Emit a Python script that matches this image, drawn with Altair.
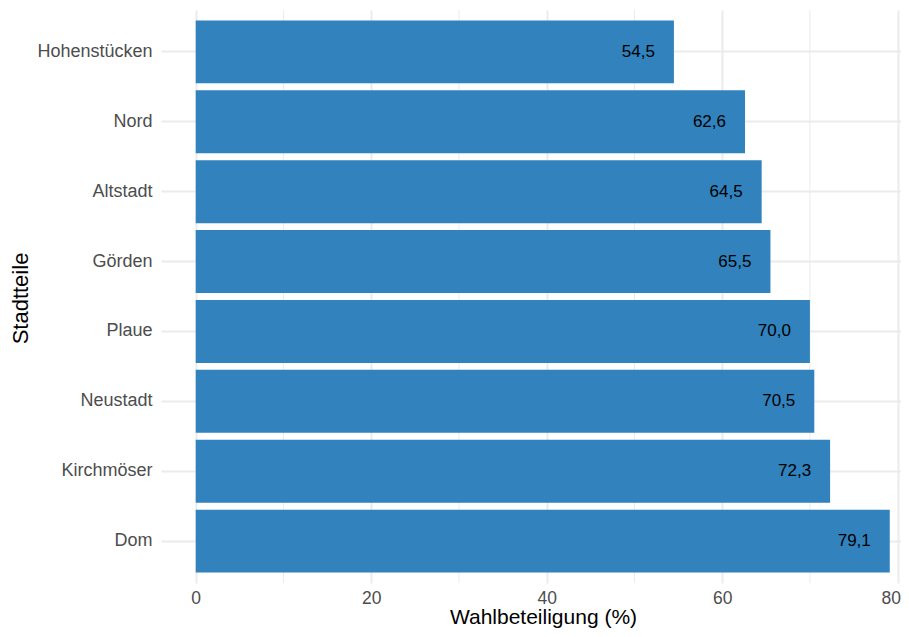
import altair as alt
import pandas as pd

districts = ["Hohenstücken", "Nord", "Altstadt", "Görden", "Plaue", "Neustadt", "Kirchmöser", "Dom"]
turnout = [54.5, 62.6, 64.5, 65.5, 70.0, 70.5, 72.3, 79.1]
labels = [f"{v:.1f}".replace(".", ",") for v in turnout]
major_ticks = [0, 20, 40, 60, 80]
minor_ticks = [10, 30, 50, 70]

df = pd.DataFrame({"Stadtteil": districts, "Wert": turnout, "Label": labels})
minor_df = pd.DataFrame({"m": minor_ticks})

FONT = "Liberation Sans"
W, H = 740, 573
xscale = alt.Scale(domain=[-3.955, 80.38], nice=False, zero=False)
yscale = alt.Scale(domain=districts, paddingInner=0.1, paddingOuter=0.15)

x_axis = alt.Axis(
    values=major_ticks, grid=True, gridColor="#ebebeb", gridWidth=2,
    ticks=False, domain=False, labelFontSize=17.5, labelColor="#4d4d4d",
    labelFont=FONT, labelPadding=6,
    labelOffset={"condition": {"test": "datum.value === 80", "value": -7}, "value": 0},
    title="Wahlbeteiligung (%)",
    titleFont=FONT, titleFontSize=21, titleFontWeight="normal", titleColor="#000000",
    titleX=382, titleY=34, titleAlign="center", titleBaseline="middle",
)
y_axis = alt.Axis(
    grid=True, gridColor="#ebebeb", gridWidth=2, ticks=False, domain=False,
    labelFontSize=18, labelColor="#4d4d4d", labelFont=FONT, labelPadding=9,
    title="Stadtteile", titleFont=FONT, titleFontSize=22, titleFontWeight="normal",
    titleColor="#000000", titleX=-141, titleY=288, titleAngle=-90,
    titleAlign="center", titleBaseline="middle",
)

minor = alt.Chart(minor_df).mark_rule(color="#ebebeb", strokeWidth=1).encode(
    x=alt.X("m:Q", scale=xscale, axis=x_axis)
)

bars = alt.Chart(df).mark_bar(color="#3182bd").encode(
    x=alt.X("Wert:Q", scale=xscale, axis=x_axis),
    y=alt.Y("Stadtteil:N", scale=yscale, sort=districts, axis=y_axis),
)

text = alt.Chart(df).mark_text(
    align="right", baseline="middle", dx=-19, fontSize=17, font=FONT, color="#000000"
).encode(
    x=alt.X("Wert:Q", scale=xscale, axis=x_axis),
    y=alt.Y("Stadtteil:N", scale=yscale, sort=districts, axis=y_axis),
    text="Label:N",
)

chart = alt.layer(minor, bars, text).properties(
    width=W, height=H,
    autosize=alt.AutoSizeParams(type="none"),
    padding={"left": 153, "top": 2, "right": 0, "bottom": 46},
).configure(background="white", view=alt.ViewConfig(stroke=None))

chart.save("out.html", embed_options={"renderer": "svg", "actions": False})
